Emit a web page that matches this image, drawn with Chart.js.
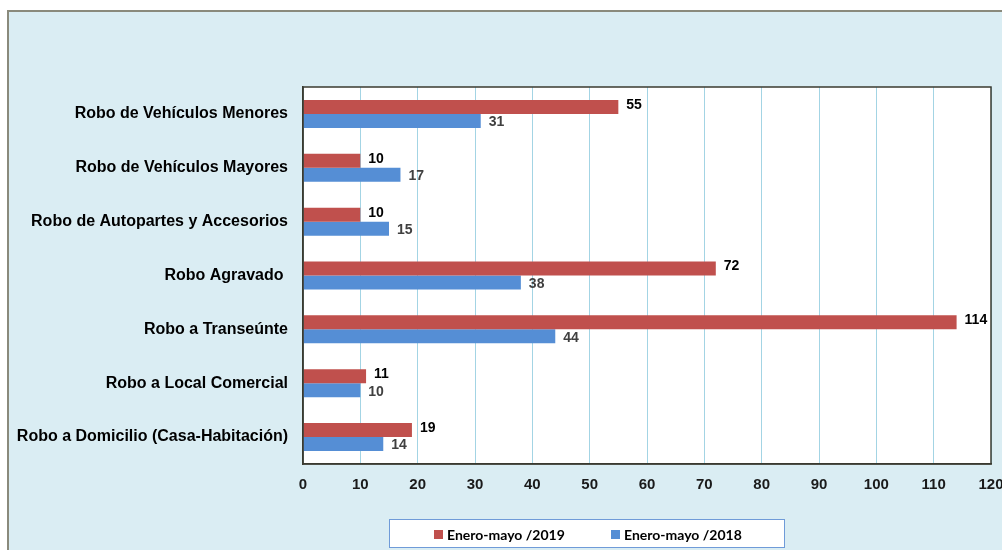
<!DOCTYPE html>
<html>
<head>
<meta charset="utf-8">
<script src="https://cdn.jsdelivr.net/npm/chart.js@4/dist/chart.umd.min.js"></script>
<style>
  html, body { margin: 0; padding: 0; background: #fff; }
  #wrap { width: 1002px; height: 550px; }
</style>
</head>
<body>
<div id="wrap"><canvas id="robosChart" width="1002" height="550"></canvas></div>
<script>
const categorias = [
  'Robo de Vehículos Menores',
  'Robo de Vehículos Mayores',
  'Robo de Autopartes y Accesorios',
  'Robo Agravado ',
  'Robo a Transeúnte',
  'Robo a Local Comercial',
  'Robo a Domicilio (Casa-Habitación)'
];
const valores2019 = [55, 10, 10, 72, 114, 11, 19];
const valores2018 = [31, 17, 15, 38, 44, 10, 14];
const etiquetasSerie = ['Enero-mayo /2019', 'Enero-mayo /2018'];
const xMax = 120;

const ROJO = '#c0504d';
const AZUL = '#558ed5';

// background, outer frame and white plot area
const fondo = {
  id: 'fondo',
  beforeDraw(chart) {
    const { ctx, chartArea: a } = chart;
    ctx.save();
    ctx.fillStyle = '#ffffff';
    ctx.fillRect(0, 0, chart.width, chart.height);
    ctx.fillStyle = '#daedf3';
    ctx.fillRect(8, 11, chart.width - 8, chart.height - 11);
    ctx.strokeStyle = '#8a8a7c';
    ctx.lineWidth = 2;
    ctx.beginPath();
    ctx.moveTo(8, chart.height);
    ctx.lineTo(8, 11);
    ctx.lineTo(chart.width, 11);
    ctx.stroke();
    ctx.fillStyle = '#ffffff';
    ctx.fillRect(a.left, a.top, a.right - a.left, a.bottom - a.top);
    ctx.restore();
  },
  afterDraw(chart) {
    const { ctx, chartArea: a } = chart;
    ctx.save();
    ctx.strokeStyle = '#3b3b30';
    ctx.lineWidth = 1.5;
    ctx.strokeRect(a.left, a.top, a.right - a.left, a.bottom - a.top);
    ctx.restore();
  }
};

// value labels next to each bar
const etiquetas = {
  id: 'etiquetas',
  afterDatasetsDraw(chart) {
    const ctx = chart.ctx;
    ctx.save();
    ctx.font = 'bold 14px "Liberation Sans", Arial, sans-serif';
    ctx.textBaseline = 'middle';
    ctx.textAlign = 'left';
    chart.data.datasets.forEach((ds, i) => {
      const meta = chart.getDatasetMeta(i);
      ctx.fillStyle = i === 0 ? '#000000' : '#404040';
      meta.data.forEach((bar, j) => {
        ctx.fillText(String(ds.data[j]), bar.x + 8, bar.y + (i === 0 ? -2 : 1.5));
      });
    });
    ctx.restore();
  }
};

// boxed legend at the bottom
const leyenda = {
  id: 'leyenda',
  afterDraw(chart) {
    const ctx = chart.ctx;
    ctx.save();
    ctx.fillStyle = '#ffffff';
    ctx.fillRect(389, 519, 395, 28);
    ctx.strokeStyle = '#6f9bd8';
    ctx.lineWidth = 1;
    ctx.strokeRect(389.5, 519.5, 395, 28);
    ctx.font = 'bold 14px Lato, "Open Sans", sans-serif';
    ctx.textBaseline = 'middle';
    const xs = [434, 611];
    chart.data.datasets.forEach((ds, i) => {
      ctx.fillStyle = ds.backgroundColor;
      ctx.fillRect(xs[i], 530, 9, 9);
      ctx.fillStyle = '#000000';
      ctx.fillText(ds.label, xs[i] + 13, 535);
    });
    ctx.restore();
  }
};

new Chart(document.getElementById('robosChart'), {
  type: 'bar',
  data: {
    labels: categorias,
    datasets: [
      { label: etiquetasSerie[0], data: valores2019, backgroundColor: ROJO, categoryPercentage: 0.52, barPercentage: 1 },
      { label: etiquetasSerie[1], data: valores2018, backgroundColor: AZUL, categoryPercentage: 0.52, barPercentage: 1 }
    ]
  },
  options: {
    indexAxis: 'y',
    responsive: false,
    animation: false,
    devicePixelRatio: 1,
    layout: { padding: { top: 87, right: 11, left: 0, bottom: 46 } },
    plugins: {
      legend: { display: false },
      tooltip: { enabled: false }
    },
    scales: {
      x: {
        min: 0, max: xMax,
        ticks: { stepSize: 10, color: '#1a1a1a', padding: 12, maxRotation: 0, autoSkip: false,
                 font: { family: '"Liberation Sans", Arial, sans-serif', size: 15, weight: 'bold' } },
        grid: { color: '#a3d4e4', lineWidth: 1, drawTicks: false },
        border: { color: '#3b3b30', width: 1.5 },
        afterFit(s) { s.height = 40; s.paddingLeft = 0; s.paddingRight = 0; }
      },
      y: {
        ticks: { color: '#000000', padding: 15, autoSkip: false,
                 font: { family: '"Liberation Sans", Arial, sans-serif', size: 16, weight: 'bold' } },
        grid: { display: false, drawTicks: false },
        border: { color: '#3b3b30', width: 1.5 },
        afterFit(s) { s.width = 303; s.paddingTop = 0; s.paddingBottom = 0; }
      }
    }
  },
  plugins: [fondo, etiquetas, leyenda]
});
</script>
</body>
</html>
